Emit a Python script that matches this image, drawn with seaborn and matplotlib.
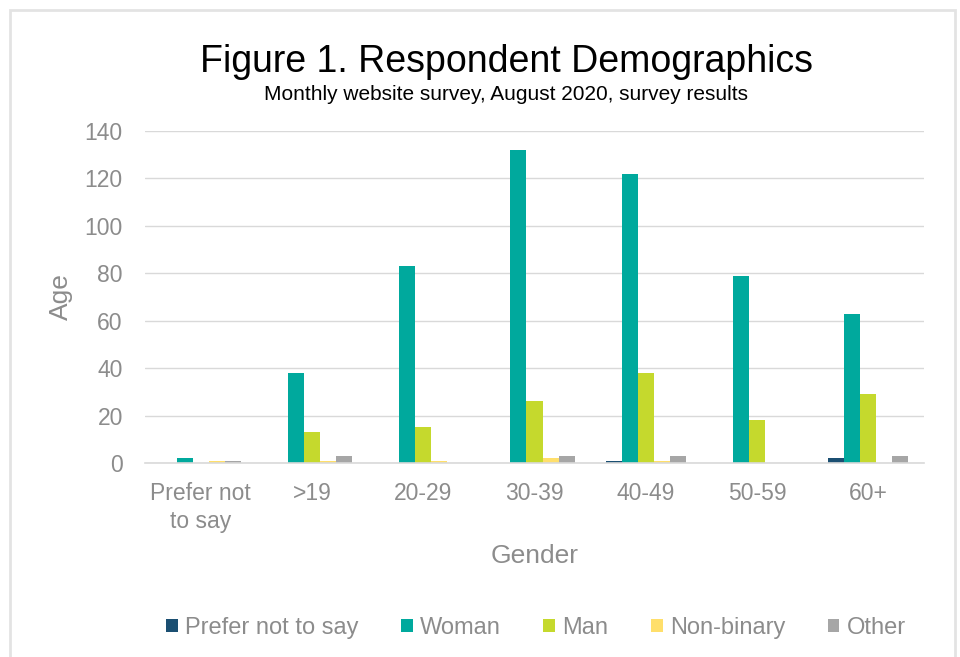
import matplotlib
matplotlib.use("Agg")
import matplotlib.pyplot as plt
from matplotlib.patches import Rectangle
import seaborn as sns
import pandas as pd

# Survey counts by age band and gender
age_bands = ["Prefer not\nto say", ">19", "20-29", "30-39", "40-49", "50-59", "60+"]
genders = ["Prefer not to say", "Woman", "Man", "Non-binary", "Other"]
prefer_not_to_say = [0, 0, 0, 0, 1, 0, 2]
woman = [2, 38, 83, 132, 122, 79, 63]
man = [0, 13, 15, 26, 38, 18, 29]
non_binary = [1, 1, 1, 2, 1, 0, 0]
other = [1, 3, 0, 3, 3, 0, 3]
y_ticks = [0, 20, 40, 60, 80, 100, 120, 140]

colors = ["#1b4f72", "#00a99d", "#c5d92d", "#ffdf6b", "#a6a6a6"]

series = [prefer_not_to_say, woman, man, non_binary, other]
rows = []
for g, vals in zip(genders, series):
    for band, v in zip(age_bands, vals):
        rows.append({"band": band, "gender": g, "count": v})
df = pd.DataFrame(rows)

sns.set_theme(style="white")
plt.rcParams["font.family"] = ["Liberation Sans", "DejaVu Sans"]

text_grey = "#8c8c8c"
grid_grey = "#d9d9d9"

fig = plt.figure(figsize=(9.6, 6.57), dpi=100)
ax = fig.add_axes([145 / 960, 1 - 463 / 657, (924 - 145) / 960, (463 - 131) / 657])

sns.barplot(data=df, x="band", y="count", hue="gender", order=age_bands,
            hue_order=genders, palette=colors, width=0.72, saturation=1,
            linewidth=0, ax=ax, legend=True)

ax.set_ylim(0, 140)
ax.set_yticks(y_ticks)
ax.yaxis.grid(True, color=grid_grey, linewidth=1)
ax.set_axisbelow(True)
for s in ["top", "right", "left"]:
    ax.spines[s].set_visible(False)
ax.spines["bottom"].set_color(grid_grey)
ax.spines["bottom"].set_linewidth(1.2)
ax.tick_params(axis="y", length=0, pad=16, labelsize=16.5, labelcolor=text_grey)
ax.tick_params(axis="x", length=0, pad=14, labelsize=16.5, labelcolor=text_grey)
for lbl in ax.get_xticklabels():
    lbl.set_multialignment("center")
    lbl.set_linespacing(1.25)

ax.set_ylabel("Age", fontsize=19, color=text_grey, labelpad=8)
ax.set_xlabel("Gender", fontsize=19, color=text_grey, labelpad=8)

handles, labels = ax.get_legend_handles_labels()
ax.legend_.remove()
fig.legend(handles, labels, loc="center", bbox_to_anchor=(536 / 960, 1 - 628 / 657),
           ncol=5, frameon=False, fontsize=17, labelcolor=text_grey,
           handlelength=0.5, handleheight=0.5, handletextpad=0.3, columnspacing=1.8)

fig.text(507 / 960, 1 - 62 / 657, "Figure 1. Respondent Demographics",
         ha="center", va="center", fontsize=27, color="black")
fig.text(506 / 960, 1 - 95 / 657, "Monthly website survey, August 2020, survey results",
         ha="center", va="center", fontsize=15, color="black")

# light frame around the chart area
fig.patches.append(Rectangle((10 / 960, -0.05), (955 - 10) / 960, 1.05 - 10 / 657,
                             transform=fig.transFigure, fill=False,
                             edgecolor="#e3e3e3", linewidth=2))

fig.savefig("out.png", dpi=100, facecolor="white")
